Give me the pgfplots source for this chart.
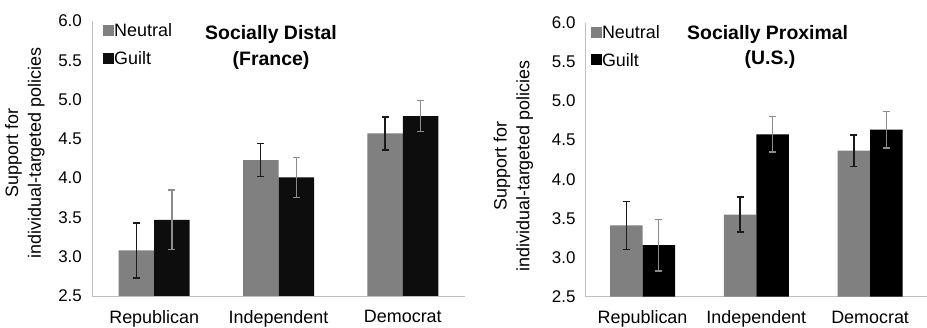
\documentclass[border=0pt]{standalone}
\usepackage{fontspec}
\setmainfont{Liberation Sans}
\usepackage{pgfplots}
\usepackage{pgfplotstable}
\pgfplotsset{compat=1.18}
\definecolor{neut}{HTML}{808080}
\definecolor{guiltL}{HTML}{0D0D0D}
\definecolor{guiltR}{HTML}{000000}
\definecolor{axgray}{HTML}{BFBFBF}
\definecolor{errgray}{HTML}{8C8C8C}
\definecolor{errdark}{HTML}{1A1A1A}

\pgfplotstableread{
x y e
0 3.08 0.35
1 4.23 0.21
2 4.57 0.21
}\leftneutral
\pgfplotstableread{
x y e
0 3.47 0.38
1 4.01 0.255
2 4.79 0.195
}\leftguilt
\pgfplotstableread{
x y e
0 3.41 0.305
1 3.55 0.225
2 4.365 0.20
}\rightneutral
\pgfplotstableread{
x y e
0 3.16 0.33
1 4.575 0.225
2 4.635 0.235
}\rightguilt

\pgfplotsset{
 mystyle/.style={
  scale only axis, anchor=south west,
  xmin=-0.5, xmax=2.5, ymin=2.5, ymax=6.0,
  axis x line*=bottom, axis y line*=left,
  axis line style={axgray, line width=1bp, -},
  xtick={0,1,2}, xticklabels={Republican,Independent,Democrat},
  ytick={2.5,3,3.5,4,4.5,5,5.5,6},
  major tick length=0pt,
  /pgf/number format/assume math mode=true,
  yticklabel style={/pgf/number format/.cd, fixed, fixed zerofill, precision=1, /tikz/.cd,
     font=\fontsize{17}{20}\selectfont, inner sep=0pt, anchor=east, xshift=-10bp},
  xticklabel style={font=\fontsize{18}{21}\selectfont, inner sep=0pt, anchor=north, yshift=-14bp},
  ylabel={Support for\\individual-targeted policies},
  legend style={draw=none, fill=none, font=\fontsize{18}{21}\selectfont, anchor=north west,
     inner sep=0pt, row sep=13bp, nodes={inner sep=0pt}},
  legend cell align=left,
  /tikz/every even column/.append style={column sep=2bp},
  ybar,
 },
 sq/.style={legend image code/.code={\fill[##1,draw=none] (0bp,-5bp) rectangle (11bp,6bp);}},
 errN/.style={error bars/.cd, y dir=both, y explicit,
   error bar style={errdark, line width=1.3bp},
   error mark options={rotate=90, errdark, mark size=3.5bp, line width=1.3bp}},
 errG/.style={error bars/.cd, y dir=both, y explicit,
   error bar style={errgray, line width=1.3bp},
   error mark options={rotate=90, errgray, mark size=3.5bp, line width=1.3bp}},
}

\begin{document}
\begin{tikzpicture}
\path[use as bounding box] (0,0) rectangle (927bp,328bp);

\begin{axis}[mystyle, at={(92bp,32bp)}, width=373bp, height=275bp, bar width=35.5bp,
   ylabel style={at={(axis description cs:-0.18,0.52)}, rotate=0, anchor=center, align=center, font=\fontsize{18}{23}\selectfont},
   legend style={at={(axis description cs:0.0295,0.99)}}]
\addplot[fill=neut, draw=none, bar shift=-17.75bp, sq, errN] table[x=x,y=y,y error=e]{\leftneutral};
\addplot[fill=guiltL, draw=none, bar shift=17.75bp, sq, errG] table[x=x,y=y,y error=e]{\leftguilt};
\legend{Neutral,Guilt}
\node[font=\bfseries\fontsize{19.5}{22}\selectfont, anchor=base] at (axis description cs:0.48,0.9345) {Socially Distal};
\node[font=\bfseries\fontsize{19.5}{22}\selectfont, anchor=base] at (axis description cs:0.48,0.84) {(France)};
\end{axis}

\begin{axis}[mystyle, at={(585.7bp,31.3bp)}, width=341.3bp, height=274bp, bar width=32.5bp,
   ylabel style={at={(axis description cs:-0.212,0.477)}, rotate=0, anchor=center, align=center, font=\fontsize{18}{23}\selectfont},
   legend style={at={(axis description cs:0.015,0.99)}}]
\addplot[fill=neut, draw=none, bar shift=-16.25bp, sq, errN] table[x=x,y=y,y error=e]{\rightneutral};
\addplot[fill=guiltR, draw=none, bar shift=16.25bp, sq, errG] table[x=x,y=y,y error=e]{\rightguilt};
\legend{Neutral,Guilt}
\node[font=\bfseries\fontsize{19.5}{22}\selectfont, anchor=base] at (axis description cs:0.533,0.939) {Socially Proximal};
\node[font=\bfseries\fontsize{19.5}{22}\selectfont, anchor=base] at (axis description cs:0.54,0.846) {(U.S.)};
\end{axis}
\end{tikzpicture}
\end{document}
